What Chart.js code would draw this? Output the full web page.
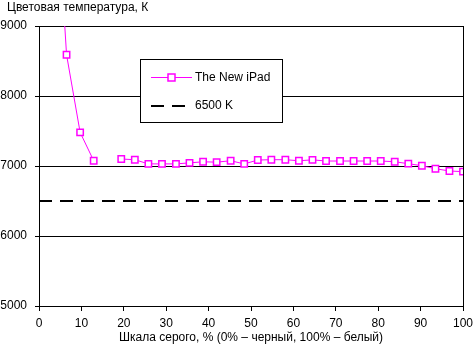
<!DOCTYPE html>
<html>
<head>
<meta charset="utf-8">
<script src="https://cdn.jsdelivr.net/npm/chart.js@4/dist/chart.umd.min.js"></script>
<style>
  html, body { margin: 0; padding: 0; background: #fff; }
  #wrap { width: 473px; height: 349px; }
</style>
</head>
<body>
<div id="wrap"><canvas id="chart" width="473" height="349"></canvas></div>
<script>
// gray level, % of white
const grayLevels = [3.2, 6.5, 9.7, 12.9, 16.1, 19.4, 22.6, 25.8, 29.0, 32.3, 35.5, 38.7, 41.9, 45.2, 48.4,
    51.6, 54.8, 58.1, 61.3, 64.5, 67.7, 71.0, 74.2, 77.4, 80.6, 83.9, 87.1, 90.3, 93.5, 96.8, 100];
// colour temperature, K (null = not measured)
const newIpad = [11800, 8590, 7480, 7075, null, 7100, 7090, 7030, 7030, 7030, 7045, 7060, 7055, 7075, 7030,
    7085, 7090, 7090, 7075, 7088, 7071, 7071, 7071, 7071, 7071, 7061, 7033, 7004, 6961, 6929, 6919];
const refX = [0, 100];
const refTemp = [6500, 6500];
const yTicks = [5000, 6000, 7000, 8000, 9000];
const xTicks = [0, 10, 20, 30, 40, 50, 60, 70, 80, 90, 100];

const seriesNames = ['The New iPad', '6500 K'];
const yTitle = 'Цветовая температура, К';
const xTitle = 'Шкала серого, % (0% – черный, 100% – белый)';

const FONT = '"Liberation Sans", Arial, sans-serif';
const MAGENTA = '#ff00ff';

// top title, right frame line and the boxed legend inside the plot
const extras = {
    id: 'extras',
    afterDraw(chart) {
        const ctx = chart.ctx;
        const area = chart.chartArea;
        ctx.save();

        ctx.strokeStyle = '#000';
        ctx.lineWidth = 1;
        ctx.beginPath();
        ctx.moveTo(Math.round(area.right) + 0.5, area.top);
        ctx.lineTo(Math.round(area.right) + 0.5, area.bottom);
        ctx.stroke();

        ctx.font = '12px ' + FONT;
        ctx.fillStyle = '#000';
        ctx.textBaseline = 'alphabetic';
        ctx.textAlign = 'left';
        ctx.fillText(yTitle, 7, 11);

        // legend box
        const bx = 140.5, by = 59.5, bw = 142, bh = 63;
        ctx.fillStyle = '#fff';
        ctx.fillRect(bx, by, bw, bh);
        ctx.strokeStyle = '#000';
        ctx.strokeRect(bx, by, bw, bh);

        const ds = chart.data.datasets;
        // row 1
        ctx.strokeStyle = ds[0].borderColor;
        ctx.lineWidth = 1;
        ctx.beginPath();
        ctx.moveTo(151, 77.5);
        ctx.lineTo(192, 77.5);
        ctx.stroke();
        ctx.fillStyle = '#fff';
        ctx.lineWidth = 1.5;
        ctx.fillRect(168, 74, 7, 7);
        ctx.strokeRect(168, 74, 7, 7);
        // row 2
        ctx.strokeStyle = ds[1].borderColor;
        ctx.lineWidth = 2;
        ctx.setLineDash(ds[1].borderDash);
        ctx.beginPath();
        ctx.moveTo(151, 106);
        ctx.lineTo(192, 106);
        ctx.stroke();
        ctx.setLineDash([]);

        ctx.fillStyle = '#000';
        ctx.textBaseline = 'middle';
        ctx.fillText(ds[0].label, 195, 78);
        ctx.fillText(ds[1].label, 195, 106);
        ctx.restore();
    }
};

const ctx = document.getElementById('chart').getContext('2d');
new Chart(ctx, {
    type: 'line',
    data: {
        datasets: [{
            label: seriesNames[0],
            data: grayLevels.map((g, i) => ({ x: g, y: newIpad[i] })),
            borderColor: MAGENTA,
            borderWidth: 1,
            pointStyle: 'rect',
            pointRadius: 4.5,
            pointBorderWidth: 1.5,
            pointBackgroundColor: '#fff',
            pointBorderColor: MAGENTA,
            spanGaps: false,
            tension: 0,
            clip: 0,
            order: 0,
        }, {
            label: seriesNames[1],
            data: refX.map((x, i) => ({ x: x, y: refTemp[i] })),
            borderColor: '#000',
            borderWidth: 2,
            borderDash: [13, 8],
            pointRadius: 0,
            clip: 0,
            order: 1,
        }]
    },
    options: {
        responsive: false,
        animation: false,
        events: [],
        layout: { padding: { top: 26, right: 10, left: 0, bottom: 0 } },
        plugins: {
            legend: { display: false },
            title: { display: false },
            tooltip: { enabled: false },
        },
        scales: {
            x: {
                type: 'linear',
                min: 0,
                max: 100,
                afterBuildTicks: (scale) => { scale.ticks = xTicks.map((v) => ({ value: v })); },
                afterFit: (scale) => {
                    scale.height = 43;
                    scale.paddingLeft = 0;
                    scale.paddingRight = 0;
                },
                ticks: {
                    color: '#000',
                    font: { family: FONT, size: 12 },
                    padding: 5,
                    maxRotation: 0,
                    autoSkip: false,
                    callback: (v) => String(v),
                },
                grid: {
                    drawOnChartArea: false,
                    color: '#000',
                    tickLength: 5,
                },
                border: { color: '#000', width: 1 },
                title: {
                    display: true,
                    text: xTitle,
                    color: '#000',
                    font: { family: FONT, size: 12 },
                    padding: { top: 0, bottom: 4 },
                },
            },
            y: {
                min: 5000,
                max: 9000,
                afterBuildTicks: (scale) => { scale.ticks = yTicks.map((v) => ({ value: v })); },
                afterFit: (scale) => {
                    scale.width = 39;
                    scale.paddingTop = 0;
                    scale.paddingBottom = 0;
                },
                ticks: {
                    color: '#000',
                    font: { family: FONT, size: 12 },
                    padding: 8,
                    callback: (v) => String(v),
                },
                grid: {
                    color: '#000',
                    lineWidth: 1,
                    tickLength: 4,
                },
                border: { color: '#000', width: 1 },
            },
        },
    },
    plugins: [extras],
});
</script>
</body>
</html>
